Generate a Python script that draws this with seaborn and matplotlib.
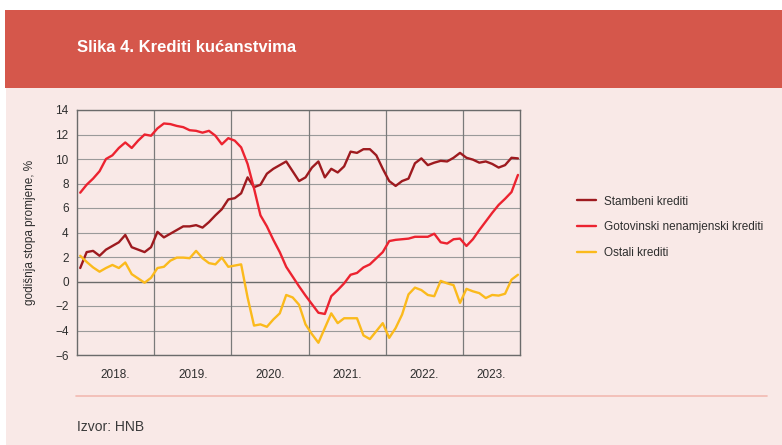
import matplotlib
matplotlib.use("Agg")
import matplotlib.pyplot as plt
from matplotlib.patches import Rectangle
from matplotlib.lines import Line2D
import seaborn as sns
import pandas as pd
import numpy as np

# ---------------- data ----------------
start_month = "2018-01"
n_months = 69
stambeni = [1.1, 2.4, 2.5, 2.1, 2.6, 2.9, 3.2, 3.8, 2.8, 2.6, 2.4, 2.8, 4.05, 3.6, 3.9, 4.2, 4.5, 4.5,
            4.6, 4.4, 4.85, 5.4, 5.9, 6.7, 6.8, 7.2, 8.5, 7.7, 7.9, 8.8, 9.2, 9.5, 9.8, 9.0, 8.2, 8.5,
            9.3, 9.8, 8.5, 9.2, 8.9, 9.4, 10.6, 10.5, 10.8, 10.8, 10.3, 9.2, 8.2, 7.8, 8.2, 8.4, 9.65,
            10.05, 9.5, 9.7, 9.85, 9.8, 10.1, 10.5, 10.1, 9.95, 9.7, 9.8, 9.6, 9.3, 9.5, 10.1, 10.05]
gotovinski = [7.25, 7.9, 8.4, 9.0, 10.0, 10.3, 10.9, 11.35, 10.9, 11.5, 12.0, 11.9, 12.5, 12.9, 12.85, 12.7, 12.6, 12.35,
              12.3, 12.15, 12.3, 11.9, 11.2, 11.7, 11.5, 10.95, 9.6, 7.6, 5.4, 4.5, 3.4, 2.4, 1.2, 0.4, -0.4, -1.15,
              -1.85, -2.55, -2.65, -1.2, -0.7, -0.15, 0.55, 0.7, 1.15, 1.4, 1.9, 2.4, 3.3, 3.4, 3.45, 3.5, 3.65,
              3.65, 3.65, 3.9, 3.2, 3.1, 3.45, 3.5, 2.9, 3.45, 4.2, 4.9, 5.6, 6.25, 6.75, 7.3, 8.7]
ostali = [2.1, 1.6, 1.15, 0.8, 1.1, 1.35, 1.1, 1.55, 0.6, 0.25, -0.1, 0.3, 1.1, 1.2, 1.7, 1.95, 1.95, 1.9,
          2.5, 1.9, 1.5, 1.4, 1.95, 1.2, 1.3, 1.4, -1.3, -3.6, -3.5, -3.7, -3.1, -2.6, -1.1, -1.3, -1.9, -3.5,
          -4.3, -5.0, -3.8, -2.6, -3.4, -3.0, -3.0, -3.0, -4.4, -4.7, -4.05, -3.4, -4.6, -3.8, -2.7, -1.05, -0.5,
          -0.7, -1.1, -1.2, 0.05, -0.15, -0.3, -1.75, -0.6, -0.8, -0.95, -1.35, -1.1, -1.15, -1.0, 0.15, 0.55]
series_names = ["Stambeni krediti", "Gotovinski nenamjenski krediti", "Ostali krediti"]
series_colors = ["#9E1A1F", "#EC2330", "#FBBA1C"]
year_labels = ["2018.", "2019.", "2020.", "2021.", "2022.", "2023."]
y_ticks = [-6, -4, -2, 0, 2, 4, 6, 8, 10, 12, 14]
title = "Slika 4. Krediti kućanstvima"
ylabel = "godišnja stopa promjene, %"
source = "Izvor: HNB"

# ---------------- frame ----------------
dates = pd.date_range(start_month, periods=n_months, freq="MS")
xpos = dates.year + (dates.month - 0.5) / 12.0
df = pd.concat([
    pd.DataFrame({"x": xpos, "v": vals, "serija": name})
    for name, vals in zip(series_names, [stambeni, gotovinski, ostali])
])

sns.set_theme(style="white")
FONT = ["Liberation Sans", "DejaVu Sans"]
plt.rcParams["font.family"] = FONT
FS = 8.5
TXT = "#2e2e2e"

W, H = 782, 445
fig = plt.figure(figsize=(W / 100, H / 100), dpi=100)
fig.patch.set_facecolor("white")

PINK = "#F9E9E7"
BANNER = "#D5574B"
fig.patches.append(Rectangle((6 / W, 0), 1, 1 - 88 / H, transform=fig.transFigure,
                             facecolor=PINK, edgecolor="none", zorder=-10))
fig.patches.append(Rectangle((5 / W, 1 - 88 / H), 1, 78 / H, transform=fig.transFigure,
                             facecolor=BANNER, edgecolor="none", zorder=-10))
fig.text(77 / W, 1 - 47 / H, title, color="white", fontsize=12, fontweight="bold",
         va="center", ha="left")

# separator + source
fig.add_artist(Line2D([76 / W, 767 / W], [1 - 396 / H, 1 - 396 / H], transform=fig.transFigure,
                      color="#F2B9B2", lw=1.2))
fig.text(77 / W, 1 - 427 / H, source, color="#3a3a3a", fontsize=10, va="center", ha="left")

ax = fig.add_axes([77 / W, 1 - 355 / H, (520 - 77) / W, (355 - 110) / H])
ax.set_facecolor(PINK)

sns.lineplot(data=df, x="x", y="v", hue="serija", palette=series_colors,
             hue_order=series_names, linewidth=1.7, ax=ax, legend=False, zorder=5)

ax.set_xlim(2018.02, 2023.735)
ax.set_ylim(-6, 14)
ax.set_yticks(y_ticks)
ax.set_yticklabels([str(t).replace("-", "\u2212") for t in y_ticks])

years = [2018 + k for k in range(len(year_labels))]
ax.set_xticks(years)
ax.set_xticklabels([])
mids = [y + 0.5 for y in years[:-1]] + [(years[-1] + 2023.735) / 2]
ax.set_xticks(mids, minor=True)
ax.set_xticklabels(year_labels, minor=True)

ax.tick_params(axis="both", which="both", length=0, labelsize=FS, colors=TXT)
ax.tick_params(axis="y", pad=6)
ax.tick_params(axis="x", which="minor", pad=10)

for t in y_ticks:
    ax.axhline(t, color="#6b6b6b" if t == 0 else "#9a9a9a", lw=1.0 if t == 0 else 0.8, zorder=1)
for y in years[1:]:
    ax.axvline(y, color="#7a7a7a", lw=0.9, zorder=1)

for s in ax.spines.values():
    s.set_color("#6b6b6b")
    s.set_linewidth(1.0)

ax.set_xlabel("")
ax.set_ylabel("")
fig.text(30 / W, 1 - 232 / H, ylabel, rotation=90, va="center", ha="center",
         fontsize=FS, color=TXT)

# legend
handles = [Line2D([], [], color=c, lw=1.7) for c in series_colors]
leg = fig.legend(handles, series_names, loc="upper left",
                 bbox_to_anchor=(566 / W, 1 - 185 / H), frameon=False,
                 handlelength=1.6, handletextpad=0.7, labelspacing=1.15,
                 prop={"size": FS})
for t in leg.get_texts():
    t.set_color(TXT)

fig.savefig("out.png", dpi=100, facecolor=fig.get_facecolor())
